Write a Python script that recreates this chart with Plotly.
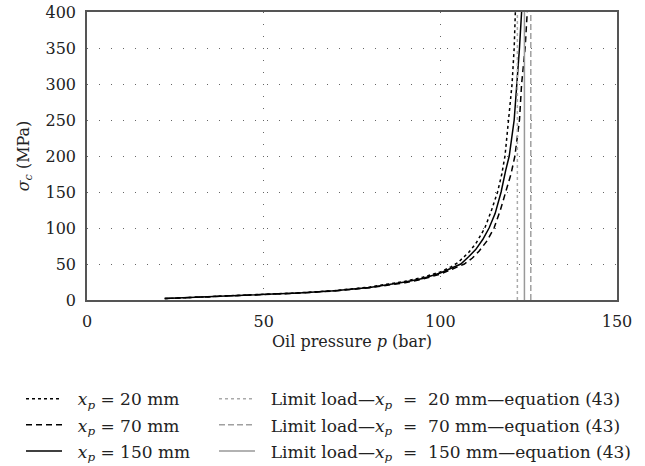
import plotly.graph_objects as go

# ---- data ----
p_20 = [22, 30, 40, 50, 60, 70, 80, 90, 95, 100, 103, 105.0, 108, 110, 112.6, 114.5, 116.2, 117.4, 118.3, 119.3, 120.3, 120.9, 121.3, 121.5]
s_20 = [2.0, 3.5, 5.3, 7.5, 10.0, 13.0, 18.0, 26.0, 31.5, 39.0, 46.0, 52.0, 66.0, 78.0, 100, 125, 150, 175, 200, 250, 300, 350, 400, 440]

p_70 = [22, 30, 40, 50, 60, 70, 80, 90, 95, 100, 103, 106.8, 109, 111, 113.2, 115.2, 117.0, 118.6, 120.0, 121.1, 122.4, 123.0, 124.0, 124.6, 124.9]
s_70 = [2.0, 3.4, 5.2, 7.3, 9.6, 12.5, 17.0, 24.0, 29.0, 36.0, 42.0, 50.0, 58.0, 68.0, 82.0, 100, 125, 150, 175, 200, 250, 300, 350, 400, 440]

p_150 = [22, 30, 40, 50, 60, 70, 80, 90, 95, 100, 103, 105.8, 108, 110, 112, 113.8, 115.5, 117.2, 118.5, 119.5, 120.9, 121.7, 122.4, 123.0, 123.3]
s_150 = [2.0, 3.5, 5.3, 7.4, 9.8, 12.8, 17.5, 25.0, 30.0, 37.5, 44.0, 50.0, 60.0, 70.0, 84.0, 100, 120, 150, 180, 200, 250, 300, 350, 400, 440]

limit_p = [121.8, 125.6, 123.8]       # limit loads, equation (43): x_p = 20, 70, 150 mm
limit_y = [0, 400]

x_ticks = [0, 50, 100, 150]
y_ticks = [0, 50, 100, 150, 200, 250, 300, 350, 400]

NB = "\u00a0"
XP = "<i>x</i><sub><i>p</i></sub>"
names_curve = [f"{NB}{NB}{XP}{NB}={NB}20{NB}mm",
               f"{NB}{NB}{XP}{NB}={NB}70{NB}mm",
               f"{NB}{NB}{XP}{NB}={NB}150{NB}mm"]
names_limit = [f"{NB}{NB}Limit load—{XP}{NB}{NB}={NB}{NB}20{NB}mm—equation (43)",
               f"{NB}{NB}Limit load—{XP}{NB}{NB}={NB}{NB}70{NB}mm—equation (43)",
               f"{NB}{NB}Limit load—{XP}{NB}{NB}={NB}{NB}150{NB}mm—equation (43)"]

FONT = "DejaVu Serif"
TXT = "#222"

fig = go.Figure()
curves = [(p_20, s_20, "dot"), (p_70, s_70, "6px,4px"), (p_150, s_150, "solid")]
limit_dash = ["dot", "6px,3px", "solid"]
limit_col = ["#aaaaaa", "#a0a0a0", "#999999"]
for i in range(3):
    px_, sy, d = curves[i]
    fig.add_trace(go.Scatter(x=px_, y=sy, mode="lines", name=names_curve[i],
                             legend="legend", legendgroup=f"c{i}",
                             line=dict(color="black", width=1.5, dash=d)))
for i in range(3):
    fig.add_trace(go.Scatter(x=[limit_p[i], limit_p[i]], y=limit_y, mode="lines",
                             name=names_limit[i], legend="legend2", legendgroup=f"l{i}",
                             line=dict(color=limit_col[i], width=1.5, dash=limit_dash[i])))

axis_common = dict(showline=True, linecolor="#555", linewidth=1.5, mirror=True,
                   showgrid=True, gridcolor="#666", gridwidth=1, griddash="1px,11px",
                   zeroline=False, ticks="", ticklabelstandoff=6,
                   ticklabeloverflow="allow",
                   tickfont=dict(family=FONT, size=16, color=TXT))

fig.update_xaxes(range=[0, 150], tickvals=x_ticks, **axis_common,
                 title=dict(text="Oil pressure <i>p</i> (bar)",
                            font=dict(family=FONT, size=16, color=TXT), standoff=6))
fig.update_yaxes(range=[0, 400], tickvals=y_ticks, **axis_common,
                 title=dict(text="<i>σ</i><sub><i>c</i></sub> (MPa)",
                            font=dict(family=FONT, size=16, color=TXT), standoff=12))

leg_common = dict(orientation="v", yanchor="top", y=-0.282, xanchor="left",
                  traceorder="grouped", itemwidth=36, tracegroupgap=1,
                  bgcolor="rgba(0,0,0,0)",
                  font=dict(family=FONT, size=17, color=TXT))
fig.update_layout(
    width=645, height=466,
    margin=dict(l=87, r=28, t=12, b=166, autoexpand=False),
    plot_bgcolor="white", paper_bgcolor="white",
    font=dict(family=FONT, size=16, color=TXT),
    legend=dict(x=-0.1245, **leg_common),
    legend2=dict(x=0.2396, **leg_common),
)

# remove the page's default 8px body margin so the figure fills the window
fig.write_html("out.html", config={"displayModeBar": False},
               post_script="document.body.style.margin='0px';")
